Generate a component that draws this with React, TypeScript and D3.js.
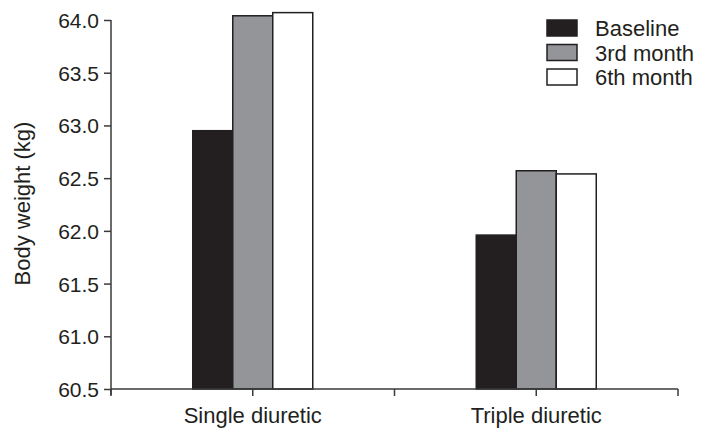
import { useEffect, useRef } from "react";
import { select, scaleLinear, scaleBand, axisLeft } from "d3";

// Data
const groups = ["Single diuretic", "Triple diuretic"];
const periods = ["Baseline", "3rd month", "6th month"];
const baseline = [62.95, 61.96];
const month3 = [64.04, 62.57];
const month6 = [64.07, 62.54];
const yTicks = [60.5, 61.0, 61.5, 62.0, 62.5, 63.0, 63.5, 64.0];

const fills = ["#231f20", "#939598", "#ffffff"];
const ink = "#231f20";
const font = "Liberation Sans, Arial, sans-serif";

const W = 706;
const H = 438;
const margin = { top: 20, right: 28, bottom: 49, left: 111 };

const App = () => {
  const svgRef = useRef<SVGSVGElement | null>(null);

  useEffect(() => {
    const svg = select(svgRef.current);
    svg.selectAll("*").remove();

    const innerW = W - margin.left - margin.right;
    const innerH = H - margin.top - margin.bottom;

    const x = scaleBand().domain(groups).range([0, innerW]).padding(0);
    const sub = scaleBand().domain(periods).range([0, 120]).padding(0);
    const y = scaleLinear().domain([60.5, 64.0]).range([innerH, 0]);

    const g = svg.append("g").attr("transform", `translate(${margin.left},${margin.top})`);

    // Bars
    const series = [baseline, month3, month6];
    groups.forEach((grp, gi) => {
      const cx = (x(grp) as number) + x.bandwidth() / 2;
      periods.forEach((p, pi) => {
        const v = series[pi][gi];
        g.append("rect")
          .attr("x", cx - 60 + (sub(p) as number))
          .attr("y", y(v))
          .attr("width", sub.bandwidth())
          .attr("height", innerH - y(v))
          .attr("fill", fills[pi])
          .attr("stroke", ink)
          .attr("stroke-width", 1.5);
      });
    });

    // Y axis
    const yAxis = axisLeft(y)
      .tickValues(yTicks)
      .tickFormat((d) => (d as number).toFixed(1))
      .tickSize(7)
      .tickPadding(5);
    const ya = g.append("g").call(yAxis);
    ya.select(".domain").attr("stroke", "#3a3a3a").attr("stroke-width", 1.5).attr("d", `M0,${innerH + 6}V0`);
    ya.selectAll(".tick line").attr("stroke", "#3a3a3a").attr("stroke-width", 1.5);
    ya.selectAll(".tick text")
      .attr("fill", ink)
      .style("font-family", font)
      .style("font-size", "21px")
      .attr("dy", "0.36em");

    // X axis with ticks at band edges and centres
    const xa = g.append("g").attr("transform", `translate(0,${innerH})`);
    xa.append("path")
      .attr("d", `M0,0H${innerW}`)
      .attr("stroke", "#3a3a3a")
      .attr("stroke-width", 1.5);
    const xTickPos: number[] = [0];
    groups.forEach((grp) => {
      xTickPos.push((x(grp) as number) + x.bandwidth() / 2);
      xTickPos.push((x(grp) as number) + x.bandwidth());
    });
    xa.selectAll("line.xt")
      .data(xTickPos)
      .join("line")
      .attr("class", "xt")
      .attr("x1", (d) => d)
      .attr("x2", (d) => d)
      .attr("y1", 0)
      .attr("y2", 7)
      .attr("stroke", "#3a3a3a")
      .attr("stroke-width", 1.5);
    xa.selectAll("text.xl")
      .data(groups)
      .join("text")
      .attr("class", "xl")
      .attr("x", (d) => (x(d) as number) + x.bandwidth() / 2)
      .attr("y", 34)
      .attr("text-anchor", "middle")
      .attr("fill", ink)
      .style("font-family", font)
      .style("font-size", "22px")
      .text((d) => d);

    // Y label
    g.append("text")
      .attr("transform", `translate(${-81},${innerH / 2 - 1}) rotate(-90)`)
      .attr("text-anchor", "middle")
      .attr("fill", ink)
      .style("font-family", font)
      .style("font-size", "22px")
      .text("Body weight (kg)");

    // Legend
    const lg = svg.append("g").attr("transform", "translate(547,20)");
    periods.forEach((p, i) => {
      const row = lg.append("g").attr("transform", `translate(0,${i * 24.5})`);
      row.append("rect")
        .attr("width", 30)
        .attr("height", 16)
        .attr("fill", fills[i])
        .attr("stroke", ink)
        .attr("stroke-width", 1.5);
      row.append("text")
        .attr("x", 48)
        .attr("y", 16)
        .attr("fill", ink)
        .style("font-family", font)
        .style("font-size", "22px")
        .text(p);
    });
  }, []);

  return (
    <svg
      ref={svgRef}
      width={W}
      height={H}
      style={{ position: "absolute", left: 0, top: 0, background: "#fff" }}
    />
  );
};

export default App;
